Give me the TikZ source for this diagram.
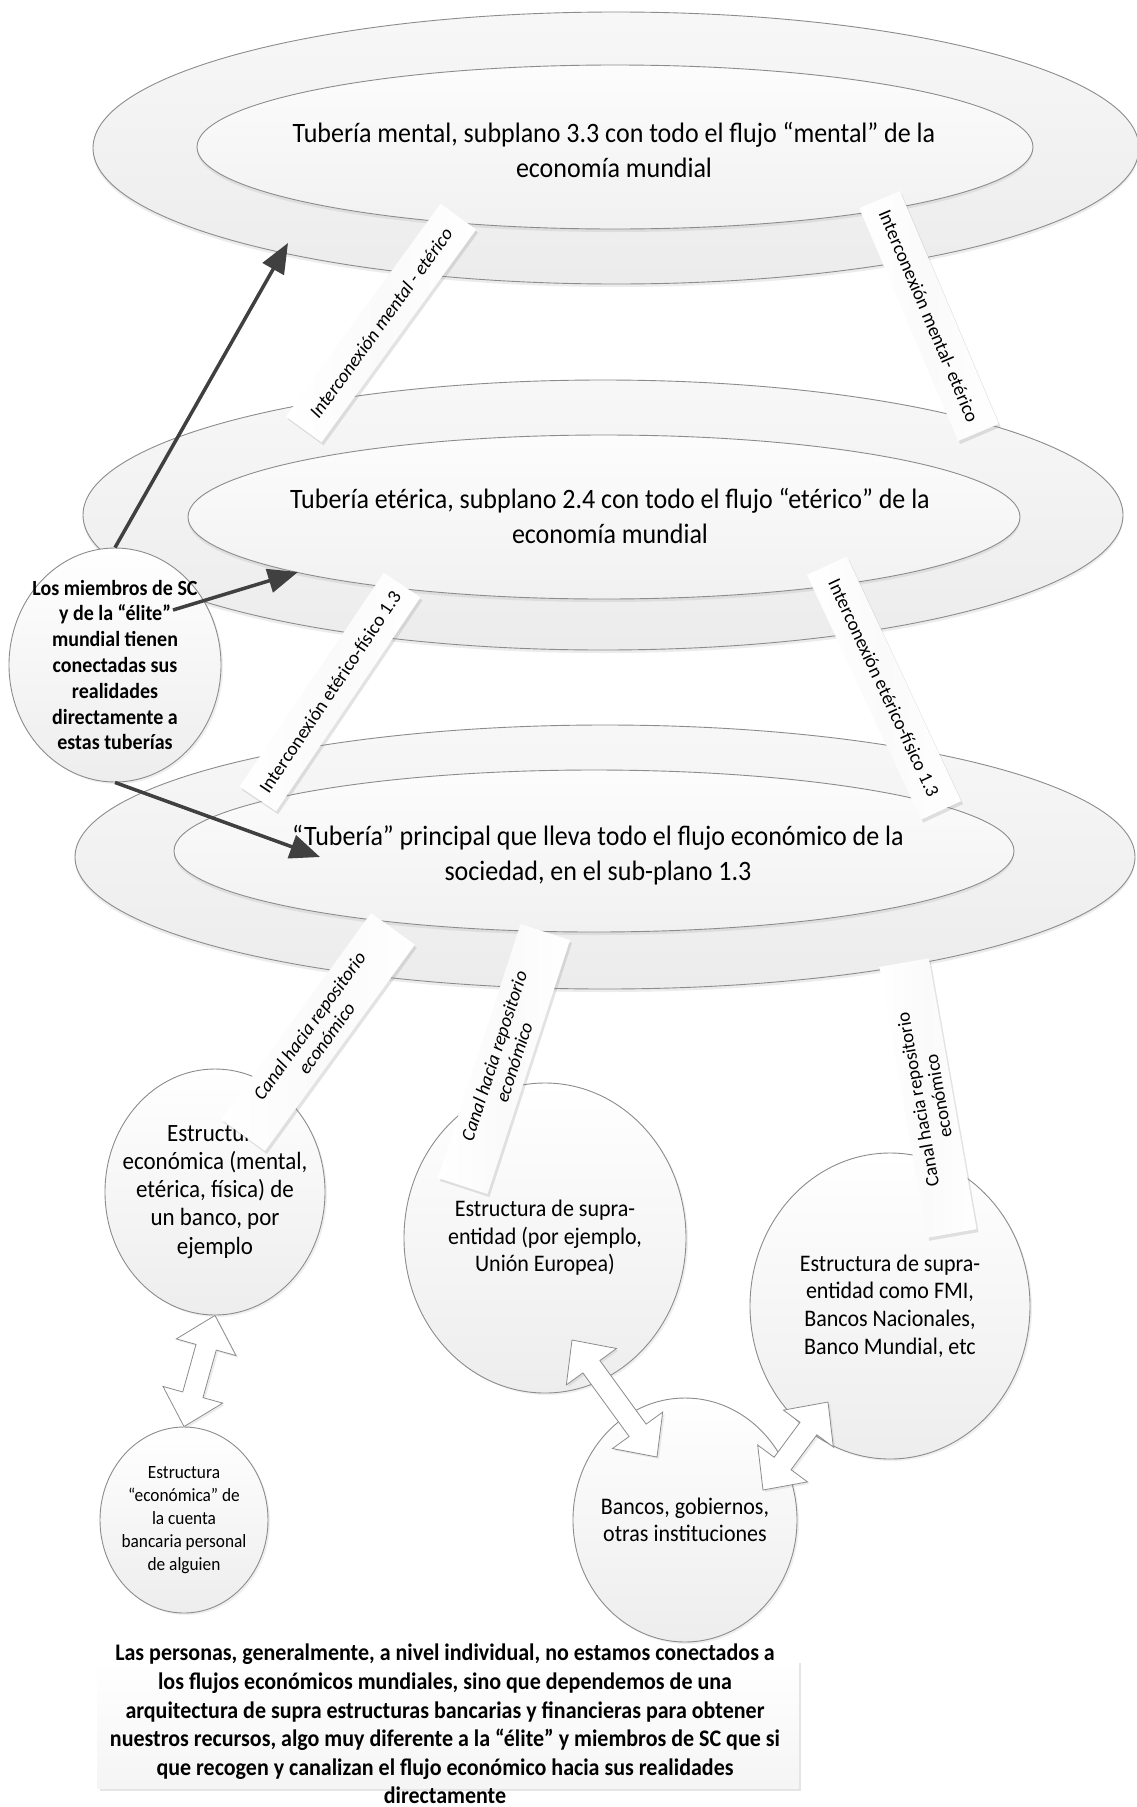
\documentclass[tikz,border=0pt]{standalone}
\usepackage{fontspec}
\setmainfont{Carlito}
\usetikzlibrary{positioning,calc,shadows,arrows.meta,shapes.geometric}

\newcommand{\twoway}[2]{%
  \path (#1) coordinate (tw-a) (#2) coordinate (tw-b)
    ($(tw-a)!33pt!(tw-b)$) coordinate (tw-p)
    ($(tw-b)!33pt!(tw-a)$) coordinate (tw-q);
  \draw[block arrow] (tw-a)
    -- ($(tw-p)!31pt!90:(tw-b)$) -- ($(tw-p)!10.5pt!90:(tw-b)$)
    -- ($(tw-q)!10.5pt!-90:(tw-a)$) -- ($(tw-q)!31pt!-90:(tw-a)$)
    -- (tw-b)
    -- ($(tw-q)!31pt!90:(tw-a)$) -- ($(tw-q)!10.5pt!90:(tw-a)$)
    -- ($(tw-p)!10.5pt!-90:(tw-b)$) -- ($(tw-p)!31pt!-90:(tw-b)$) -- cycle;}

\begin{document}
\begin{tikzpicture}
    [x=1pt, y=-1pt,
     outer pipe/.style={ellipse, draw=black!45, line width=0.9pt, top color=gray!6, bottom color=gray!15,
       drop shadow={opacity=0.15, shadow xshift=0pt, shadow yshift=-3pt}},
     inner pipe/.style={ellipse, draw=black!45, line width=0.9pt, top color=gray!2, bottom color=gray!11,
       drop shadow={opacity=0.15, shadow xshift=0pt, shadow yshift=-3pt}},
     pipe text/.style={align=center, yscale=1.08, font=\fontsize{26}{32.5}\selectfont},
     bubble/.style={ellipse, draw=black!45, line width=0.9pt, top color=white, bottom color=gray!14,
       drop shadow={opacity=0.12, shadow xshift=2pt, shadow yshift=-2pt}},
     bubble text/.style={align=center, yscale=1.08, font=\fontsize{22}{25.5}\selectfont},
     strip/.style={rectangle, inner sep=0pt, left color=white, right color=white, middle color=gray!4,
       drop shadow={opacity=0.22, shadow xshift=2pt, shadow yshift=-3pt},
       align=center, font=\fontsize{19}{21}\selectfont},
     strip it/.style={strip, font=\fontsize{19}{21}\selectfont\itshape},
     pointer/.style={draw=black!75, line width=3.5pt, -{Triangle[length=30pt,width=24pt]}},
     block arrow/.style={fill=white, draw=black!45, line width=0.8pt,
       drop shadow={opacity=0.15, shadow xshift=2pt, shadow yshift=-2pt}},
     note box/.style={rectangle, top color=white, bottom color=gray!8,
       drop shadow={opacity=0.2, shadow xshift=2pt, shadow yshift=-3pt}},
     note text/.style={align=center, yscale=1.08, font=\fontsize{22}{26.4}\selectfont\bfseries}]
    \useasboundingbox (0,0) rectangle (1137,1807);
    \fill[white] (0,0) rectangle (1137,1807);

    \node[outer pipe, minimum width=1046pt, minimum height=272pt] (mentalout) at (616,148) {};
    \node[inner pipe, minimum width=836pt, minimum height=164pt] (mentalin) at (615,147) {};
    \node[pipe text] (mentaltext) at (614,150)
      {Tubería mental, subplano 3.3 con todo el flujo “mental” de la\\economía mundial};

    \node[outer pipe, minimum width=1040pt, minimum height=270pt] (etericout) at (603,515) {};
    \node[inner pipe, minimum width=832pt, minimum height=164pt] (etericin) at (604,517) {};
    \node[pipe text] (eterictext) at (610,516)
      {Tubería etérica, subplano 2.4 con todo el flujo “etérico” de la\\economía mundial};

    \node[outer pipe, minimum width=1060pt, minimum height=264pt] (fisout) at (605,857) {};
    \node[inner pipe, minimum width=840pt, minimum height=162pt] (fisin) at (594,851) {};
    \node[pipe text] (fistext) at (598,855)
      {“Tubería” principal que lleva todo el flujo económico de la\\sociedad, en el sub-plano 1.3};

    \node[bubble, minimum width=212pt, minimum height=234pt] (elite) at (115,665) {};
    \node[align=center, yscale=1.08, font=\fontsize{20}{23.9}\selectfont\bfseries] (elitetext) at (elite)
      {Los miembros de SC\\y de la “élite”\\mundial tienen\\conectadas sus\\realidades\\directamente a\\estas tuberías};

    \coordinate (mentalhit) at (288,243);
    \coordinate (elitemid) at (173,610);
    \coordinate (eterichit) at (298,572);
    \coordinate (fishit) at (320,857);
    \draw[pointer] (elite.north) -- (mentalhit);
    \draw[pointer] (elitemid) -- (eterichit);
    \draw[pointer] (elite.south) -- (fishit);

    \node[strip it, minimum width=263pt, minimum height=44pt, rotate=54] (me1) at (381,323)
      {Interconexión mental - etérico};
    \node[strip, minimum width=253pt, minimum height=44pt, rotate=-67] (me2) at (929,316)
      {Interconexión mental- etérico};
    \node[strip, minimum width=258pt, minimum height=44pt, rotate=56] (ef1) at (330,692)
      {Interconexión etérico-físico 1.3};
    \node[strip, minimum width=270pt, minimum height=44pt, rotate=-65] (ef2) at (884,688)
      {Interconexión etérico-físico 1.3};

    \node[bubble, minimum width=220pt, minimum height=246pt] (bank) at (215,1192) {};
    \node[bubble text, font=\fontsize{23}{26}\selectfont] (banktext) at (215,1192)
      {Estructura\\económica (mental,\\etérica, física) de\\un banco, por\\ejemplo};
    \node[bubble, minimum width=282pt, minimum height=310pt] (ue) at (545,1238) {};
    \node[bubble text] (uetext) at (ue)
      {Estructura de supra-\\entidad (por ejemplo,\\Unión Europea)};
    \node[bubble, minimum width=280pt, minimum height=306pt] (fmi) at (890,1306) {};
    \node[bubble text] (fmitext) at (fmi)
      {Estructura de supra-\\entidad como FMI,\\Bancos Nacionales,\\Banco Mundial, etc};
    \node[bubble, minimum width=224pt, minimum height=244pt] (banks) at (685,1520) {};
    \node[bubble text] (bankstext) at (banks) {Bancos, gobiernos,\\otras instituciones};
    \node[bubble, minimum width=168pt, minimum height=186pt] (pers) at (184,1520) {};
    \node[bubble text, font=\fontsize{17.3}{21.3}\selectfont] (perstext) at (pers)
      {Estructura\\“económica” de\\la cuenta\\bancaria personal\\de alguien};

    \node[strip it, minimum width=255pt, minimum height=54pt, rotate=54] (canal1) at (318,1032)
      {Canal hacia repositorio\\económico};
    \node[strip it, minimum width=267pt, minimum height=52pt, rotate=72] (canal2) at (504,1059)
      {Canal hacia repositorio\\económico};
    \node[strip, minimum width=275pt, minimum height=50pt, rotate=100] (canal3) at (928,1098)
      {Canal hacia repositorio\\económico};

    \coordinate (uedock) at (572,1340);
    \coordinate (banksdockl) at (657,1457);
    \coordinate (banksdockr) at (763,1490);
    \coordinate (fmidock) at (828,1402);
    \twoway{bank.south}{pers.north}
    \twoway{uedock}{banksdockl}
    \twoway{banksdockr}{fmidock}

    \node[note box, minimum width=701pt, minimum height=128pt] (notebox) at (448,1724) {};
    \node[note text] (note) at (445,1724)
      {Las personas, generalmente, a nivel individual, no estamos conectados a\\
       los flujos económicos mundiales, sino que dependemos de una\\
       arquitectura de supra estructuras bancarias y financieras para obtener\\
       nuestros recursos, algo muy diferente a la “élite” y miembros de SC que si\\
       que recogen y canalizan el flujo económico hacia sus realidades\\
       directamente};
\end{tikzpicture}
\end{document}
